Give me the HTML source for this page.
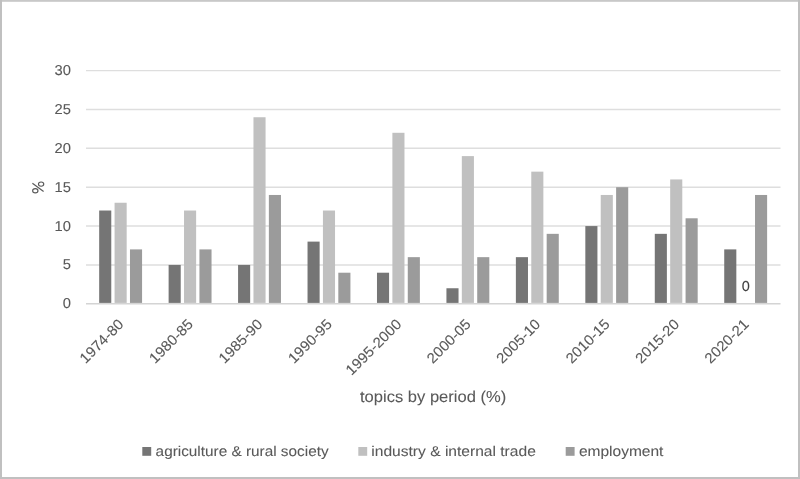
<!DOCTYPE html>
<html><head><meta charset="utf-8"><title>chart</title>
<style>
html,body{margin:0;padding:0;background:#fff;}
body{width:800px;height:479px;overflow:hidden;}
svg{display:block;filter:blur(0.4px);}
text{font-family:"Liberation Sans",sans-serif;text-rendering:geometricPrecision;fill:#595959;stroke:#595959;stroke-width:0.08px;}
text.t{stroke-width:0.1px;}
</style></head><body>
<svg width="800" height="479" viewBox="0 0 800 479">
<rect x="0" y="0" width="800" height="479" fill="#ffffff"/>
<rect x="-2" y="-2" width="804" height="3.8" fill="#c8c8c8"/><rect x="-2" y="-2" width="4" height="483" fill="#c0c0c0"/><rect x="798" y="-2" width="4" height="483" fill="#c0c0c0"/><rect x="-2" y="477" width="804" height="4" fill="#c0c0c0"/>
<line x1="86.00" y1="264.93" x2="780.50" y2="264.93" stroke="#dedede" stroke-width="1.45"/>
<line x1="86.00" y1="226.07" x2="780.50" y2="226.07" stroke="#dedede" stroke-width="1.45"/>
<line x1="86.00" y1="187.20" x2="780.50" y2="187.20" stroke="#dedede" stroke-width="1.45"/>
<line x1="86.00" y1="148.33" x2="780.50" y2="148.33" stroke="#dedede" stroke-width="1.45"/>
<line x1="86.00" y1="109.47" x2="780.50" y2="109.47" stroke="#dedede" stroke-width="1.45"/>
<line x1="86.00" y1="70.60" x2="780.50" y2="70.60" stroke="#dedede" stroke-width="1.45"/>
<rect x="99.17" y="210.52" width="12.10" height="92.38" fill="#757575"/>
<rect x="114.58" y="202.75" width="12.10" height="100.15" fill="#c0c0c0"/>
<rect x="129.97" y="249.39" width="12.10" height="53.51" fill="#9b9b9b"/>
<rect x="168.62" y="264.93" width="12.10" height="37.97" fill="#757575"/>
<rect x="184.03" y="210.52" width="12.10" height="92.38" fill="#c0c0c0"/>
<rect x="199.43" y="249.39" width="12.10" height="53.51" fill="#9b9b9b"/>
<rect x="238.07" y="264.93" width="12.10" height="37.97" fill="#757575"/>
<rect x="253.47" y="117.24" width="12.10" height="185.66" fill="#c0c0c0"/>
<rect x="268.87" y="194.97" width="12.10" height="107.93" fill="#9b9b9b"/>
<rect x="307.53" y="241.61" width="12.10" height="61.29" fill="#757575"/>
<rect x="322.93" y="210.52" width="12.10" height="92.38" fill="#c0c0c0"/>
<rect x="338.32" y="272.71" width="12.10" height="30.19" fill="#9b9b9b"/>
<rect x="376.98" y="272.71" width="12.10" height="30.19" fill="#757575"/>
<rect x="392.38" y="132.79" width="12.10" height="170.11" fill="#c0c0c0"/>
<rect x="407.77" y="257.16" width="12.10" height="45.74" fill="#9b9b9b"/>
<rect x="446.43" y="288.25" width="12.10" height="14.65" fill="#757575"/>
<rect x="461.82" y="156.11" width="12.10" height="146.79" fill="#c0c0c0"/>
<rect x="477.22" y="257.16" width="12.10" height="45.74" fill="#9b9b9b"/>
<rect x="515.88" y="257.16" width="12.10" height="45.74" fill="#757575"/>
<rect x="531.27" y="171.65" width="12.10" height="131.25" fill="#c0c0c0"/>
<rect x="546.67" y="233.84" width="12.10" height="69.06" fill="#9b9b9b"/>
<rect x="585.33" y="226.07" width="12.10" height="76.83" fill="#757575"/>
<rect x="600.73" y="194.97" width="12.10" height="107.93" fill="#c0c0c0"/>
<rect x="616.12" y="187.20" width="12.10" height="115.70" fill="#9b9b9b"/>
<rect x="654.78" y="233.84" width="12.10" height="69.06" fill="#757575"/>
<rect x="670.18" y="179.43" width="12.10" height="123.47" fill="#c0c0c0"/>
<rect x="685.58" y="218.29" width="12.10" height="84.61" fill="#9b9b9b"/>
<rect x="724.23" y="249.39" width="12.10" height="53.51" fill="#757575"/>
<rect x="755.02" y="194.97" width="12.10" height="107.93" fill="#9b9b9b"/>
<line x1="86.00" y1="303.80" x2="780.50" y2="303.80" stroke="#d4d4d4" stroke-width="1.5"/>
<text transform="translate(71.0,308.30) scale(1.03,1)" font-size="14.3" class="t" text-anchor="end">0</text>
<text transform="translate(71.0,269.43) scale(1.03,1)" font-size="14.3" class="t" text-anchor="end">5</text>
<text transform="translate(71.0,230.57) scale(1.03,1)" font-size="14.3" class="t" text-anchor="end">10</text>
<text transform="translate(71.0,191.70) scale(1.03,1)" font-size="14.3" class="t" text-anchor="end">15</text>
<text transform="translate(71.0,152.83) scale(1.03,1)" font-size="14.3" class="t" text-anchor="end">20</text>
<text transform="translate(71.0,113.97) scale(1.03,1)" font-size="14.3" class="t" text-anchor="end">25</text>
<text transform="translate(71.0,75.10) scale(1.03,1)" font-size="14.3" class="t" text-anchor="end">30</text>
<g fill="none" stroke="#595959" stroke-width="1.15"><ellipse cx="35.3" cy="190.75" rx="2.65" ry="2.1"/><ellipse cx="41.1" cy="184.1" rx="2.65" ry="2.1"/><line x1="32.4" y1="183.2" x2="43.6" y2="191.5"/></g>
<text transform="translate(124.52,325.20) rotate(-45) scale(1.035,1)" font-size="14.5" class="t" text-anchor="end">1974-80</text>
<text transform="translate(193.98,325.20) rotate(-45) scale(1.035,1)" font-size="14.5" class="t" text-anchor="end">1980-85</text>
<text transform="translate(263.43,325.20) rotate(-45) scale(1.035,1)" font-size="14.5" class="t" text-anchor="end">1985-90</text>
<text transform="translate(332.88,325.20) rotate(-45) scale(1.035,1)" font-size="14.5" class="t" text-anchor="end">1990-95</text>
<text transform="translate(402.33,325.20) rotate(-45) scale(1.035,1)" font-size="14.5" class="t" text-anchor="end">1995-2000</text>
<text transform="translate(471.78,325.20) rotate(-45) scale(1.035,1)" font-size="14.5" class="t" text-anchor="end">2000-05</text>
<text transform="translate(541.22,325.20) rotate(-45) scale(1.035,1)" font-size="14.5" class="t" text-anchor="end">2005-10</text>
<text transform="translate(610.67,325.20) rotate(-45) scale(1.035,1)" font-size="14.5" class="t" text-anchor="end">2010-15</text>
<text transform="translate(680.12,325.20) rotate(-45) scale(1.035,1)" font-size="14.5" class="t" text-anchor="end">2015-20</text>
<text transform="translate(749.57,325.20) rotate(-45) scale(1.035,1)" font-size="14.5" class="t" text-anchor="end">2020-21</text>
<text x="745.9" y="291.4" font-size="14.5" text-anchor="middle" style="fill:#404040;stroke:#404040">0</text>
<text transform="translate(360.0,402.3)" font-size="15.9" textLength="146.2" lengthAdjust="spacingAndGlyphs">topics by period (%)</text>
<rect x="142.30" y="447" width="8.9" height="8.8" fill="#757575"/>
<text transform="translate(155.60,455.5)" font-size="14.2" textLength="173.0" lengthAdjust="spacingAndGlyphs">agriculture &amp; rural society</text>
<rect x="358.30" y="447" width="8.9" height="8.8" fill="#c0c0c0"/>
<text transform="translate(371.30,455.5)" font-size="14.2" textLength="164.5" lengthAdjust="spacingAndGlyphs">industry &amp; internal trade</text>
<rect x="565.70" y="447" width="8.9" height="8.8" fill="#9b9b9b"/>
<text transform="translate(578.90,455.5)" font-size="14.2" textLength="84.5" lengthAdjust="spacingAndGlyphs">employment</text>
</svg>
</body></html>
